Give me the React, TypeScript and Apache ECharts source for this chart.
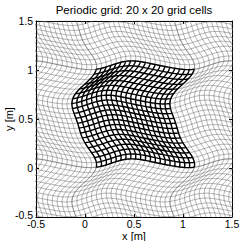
import React, { useEffect, useRef } from "react";
import * as echarts from "echarts";

// grid definition
const gridCells = [20, 20];
const tileOffsets = [-1, 0, 1];
// warp of x as a function of v: [mean, cos1, sin1, cos2, sin2]
const xWarpCoef = [-0.019, 0.104, 0.048, 0.03, -0.0055];
// warp of y as a function of u: [mean, cos1, sin1, cos2, sin2]
const yWarpCoef = [0.0475, -0.0347, 0.0261, -0.005, -0.0025];
const axisTicks = [-0.5, 0, 0.5, 1, 1.5];
const titleText = "Periodic grid: 20 x 20 grid cells";
const xName = "x [m]";
const yName = "y [m]";

const warp = (c: number[], t: number) => {
  const a = 2 * Math.PI * t;
  return c[0] + c[1] * Math.cos(a) + c[2] * Math.sin(a) + c[3] * Math.cos(2 * a) + c[4] * Math.sin(2 * a);
};

const buildTile = (ti: number, tj: number) => {
  const lines: { coords: number[][] }[] = [];
  const samples = 80;
  const [nu, nv] = gridCells;
  for (let k = 0; k <= nv; k++) {
    const v = k / nv;
    const coords: number[][] = [];
    for (let m = 0; m <= samples; m++) {
      const u = m / samples;
      coords.push([u + warp(xWarpCoef, v) + ti, v + warp(yWarpCoef, u) + tj]);
    }
    lines.push({ coords });
  }
  for (let k = 0; k <= nu; k++) {
    const u = k / nu;
    const coords: number[][] = [];
    for (let m = 0; m <= samples; m++) {
      const v = m / samples;
      coords.push([u + warp(xWarpCoef, v) + ti, v + warp(yWarpCoef, u) + tj]);
    }
    lines.push({ coords });
  }
  return lines;
};

export default function App() {
  const ref = useRef<HTMLDivElement>(null);
  useEffect(() => {
    if (!ref.current) return;
    const chart = echarts.init(ref.current, undefined, { renderer: "svg" });
    const thin: { coords: number[][] }[] = [];
    tileOffsets.forEach((i) =>
      tileOffsets.forEach((j) => {
        if (i !== 0 || j !== 0) thin.push(...buildTile(i, j));
      })
    );
    const thick = buildTile(0, 0);
    const font = "Liberation Sans, Arial, Helvetica, sans-serif";
    const axisCommon = {
      type: "value" as const,
      min: axisTicks[0],
      max: axisTicks[axisTicks.length - 1],
      interval: 0.5,
      splitLine: { show: false },
      axisLine: { show: true, onZero: false, lineStyle: { color: "#000", width: 1 } },
      axisTick: { show: true, inside: true, length: 3, lineStyle: { color: "#000" } },
    };
    const textStyle = (text: string) => ({
      text,
      fontSize: 11,
      fontFamily: font,
      fill: "#000",
      textAlign: "center",
      textVerticalAlign: "middle",
    });
    chart.setOption({
      animation: false,
      backgroundColor: "#fff",
      grid: { left: 36, right: 9, top: 21, bottom: 24, containLabel: false, outerBoundsMode: "none" },
      graphic: [
        { type: "text", x: 134, y: 10, style: { ...textStyle(titleText), fontSize: 11.5 } },
        { type: "text", x: 134, y: 235.5, style: textStyle(xName) },
        { type: "text", x: 9, y: 119, rotation: Math.PI / 2, style: textStyle(yName) },
      ],
      xAxis: [
        {
          ...axisCommon,
          position: "bottom",
          axisLabel: { fontSize: 10.5, fontFamily: font, color: "#000", margin: 2, lineHeight: 10 },
        },
        { ...axisCommon, position: "top", axisLabel: { show: false } },
      ],
      yAxis: [
        {
          ...axisCommon,
          position: "left",
          axisLabel: {
            fontSize: 10.5,
            fontFamily: font,
            color: "#000",
            margin: 3,
            formatter: (val: number) => (val === axisTicks[0] ? `{lo|${val}}` : `${val}`),
            rich: { lo: { fontSize: 10.5, fontFamily: font, color: "#000", padding: [0, 0, 5, 0] } },
          },
        },
        { ...axisCommon, position: "right", axisLabel: { show: false } },
      ],
      series: [
        {
          type: "lines",
          coordinateSystem: "cartesian2d",
          polyline: true,
          clip: true,
          silent: true,
          lineStyle: { color: "#666", width: 0.5, opacity: 1 },
          data: thin,
        },
        {
          type: "lines",
          coordinateSystem: "cartesian2d",
          polyline: true,
          clip: true,
          silent: true,
          lineStyle: { color: "#000", width: 1.4, opacity: 1 },
          data: thick,
        },
      ],
    });
    return () => chart.dispose();
  }, []);
  return (
    <div
      ref={ref}
      style={{ position: "fixed", left: 0, top: 0, width: 241, height: 241 }}
    />
  );
}
